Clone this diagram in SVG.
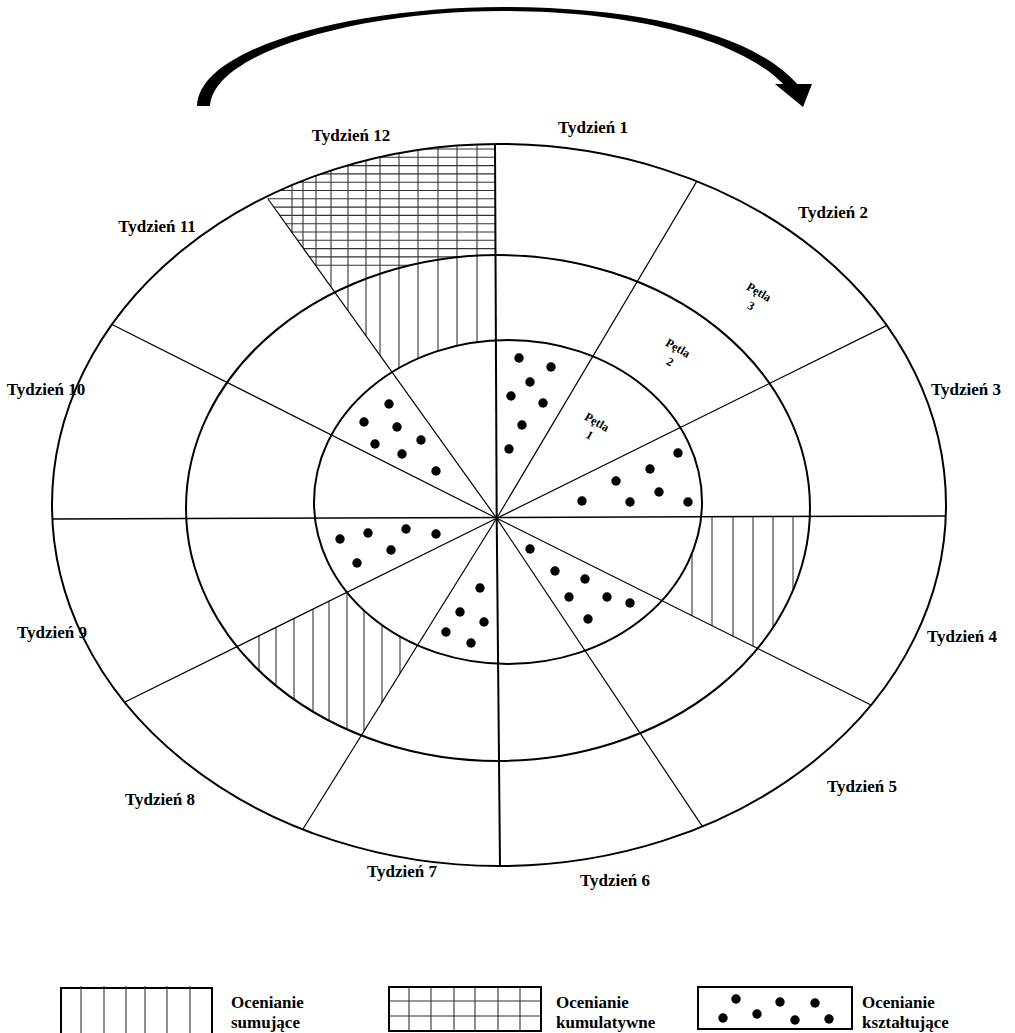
<svg xmlns="http://www.w3.org/2000/svg" width="1015" height="1033" viewBox="0 0 1015 1033">
<style>
.ring{fill:none;stroke:#000;stroke-width:2}
.spoke{stroke:#000;stroke-width:1.2;fill:none}
.hatch{stroke:#333;stroke-width:1.1;fill:none}
.dot{fill:#000}
.wk{font-family:"Liberation Serif","Times New Roman",serif;font-weight:bold;font-size:17px;fill:#000;text-anchor:middle}
.pt{font-family:"Liberation Serif","Times New Roman",serif;font-weight:bold;font-size:12px;fill:#000;text-anchor:middle}
.lg{font-family:"Liberation Serif","Times New Roman",serif;font-weight:bold;font-size:17px;fill:#000}
.box{fill:none;stroke:#000;stroke-width:2}
</style>
<defs>
<clipPath id="ringOI"><path clip-rule="evenodd" d="M52,505 a447,361 0 1,0 894,0 a447,361 0 1,0 -894,0Z M314,502 a194,162 0 1,0 388,0 a194,162 0 1,0 -388,0Z"/></clipPath>
<clipPath id="ringOM"><path clip-rule="evenodd" d="M52,505 a447,361 0 1,0 894,0 a447,361 0 1,0 -894,0Z M186,508 a312,253 0 1,0 624,0 a312,253 0 1,0 -624,0Z"/></clipPath>
<clipPath id="ringMI"><path clip-rule="evenodd" d="M186,508 a312,253 0 1,0 624,0 a312,253 0 1,0 -624,0Z M314,502 a194,162 0 1,0 388,0 a194,162 0 1,0 -388,0Z"/></clipPath>
<clipPath id="sec12"><polygon points="496.7,518.3 46.7,-109.7 493.3,-230"/></clipPath>
<clipPath id="sec3"><polygon points="496.7,518.3 1395,514 1245,892"/></clipPath>
<clipPath id="sec8"><polygon points="496.7,518.3 -247,886 109,1140"/></clipPath>
</defs>

<g id="cycle-arrow">
<path d="M197,106 C199,45 360,7 502,7 C648,7 757,36 799,86 L785,86 C745,43 643,11 502,11 C365,11 214,50 210,106 Z" fill="#000"/>
<polygon points="775,84 812,84 803,107" fill="#000"/>
</g>

<g id="hatching">
<g clip-path="url(#sec12)">
<g clip-path="url(#ringOI)">
<path class="hatch" d="M292,100V520 M303,100V520 M316,100V520 M331,100V520 M348,100V520 M366,100V520 M380,100V520 M399,100V520 M418,100V520 M438,100V520 M457,100V520 M477,100V520"/>
</g>
<g clip-path="url(#ringOM)">
<path class="hatch" d="M200,149H500 M200,157.3H500 M200,165.6H500 M200,173.9H500 M200,182.2H500 M200,190.5H500 M200,198.8H500 M200,207.1H500 M200,215.4H500 M200,223.7H500 M200,232H500 M200,240.3H500 M200,248.6H500 M200,256.9H500 M200,265.2H500"/>
</g>
</g>
<g clip-path="url(#sec3)">
<g clip-path="url(#ringMI)">
<path class="hatch" d="M692,500V730 M712,500V730 M733,500V730 M753,500V730 M773,500V730 M793,500V730"/>
</g>
</g>
<g clip-path="url(#sec8)">
<g clip-path="url(#ringMI)">
<path class="hatch" d="M259,550V790 M276,550V790 M294,550V790 M313,550V790 M329,550V790 M347,550V790 M364,550V790 M382,550V790 M400,550V790"/>
</g>
</g>
</g>

<g id="rings">
<ellipse id="outer-ring" class="ring" cx="499" cy="505" rx="447" ry="361"/>
<ellipse id="middle-ring" class="ring" cx="498" cy="508" rx="312" ry="253"/>
<ellipse id="inner-ring" class="ring" cx="508" cy="502" rx="194" ry="162"/>
</g>

<g id="connectors">
<line class="spoke" style="stroke-width:2" x1="496.7" y1="518.3" x2="495" y2="144"/>
<line class="spoke" x1="496.7" y1="518.3" x2="696.6" y2="181.6"/>
<line class="spoke" x1="496.7" y1="518.3" x2="886.5" y2="325.6"/>
<line class="spoke" style="stroke-width:1.5" x1="52" y1="519" x2="946" y2="516"/>
<line class="spoke" x1="496.7" y1="518.3" x2="871" y2="705"/>
<line class="spoke" x1="496.7" y1="518.3" x2="702.5" y2="826.7"/>
<line class="spoke" style="stroke-width:2" x1="496.7" y1="518.3" x2="500" y2="866"/>
<line class="spoke" x1="496.7" y1="518.3" x2="303" y2="829"/>
<line class="spoke" x1="496.7" y1="518.3" x2="125" y2="702"/>
<line class="spoke" x1="496.7" y1="518.3" x2="112" y2="324.5"/>
<line class="spoke" x1="496.7" y1="518.3" x2="268" y2="199"/>
</g>

<g id="dots">
<circle class="dot" r="4.7" cx="519" cy="358"/><circle class="dot" r="4.7" cx="551" cy="367"/><circle class="dot" r="4.7" cx="530" cy="382"/><circle class="dot" r="4.7" cx="511" cy="396"/><circle class="dot" r="4.7" cx="543" cy="403"/><circle class="dot" r="4.7" cx="522" cy="425"/><circle class="dot" r="4.7" cx="509" cy="449"/>
<circle class="dot" r="4.7" cx="678" cy="453"/><circle class="dot" r="4.7" cx="650" cy="469"/><circle class="dot" r="4.7" cx="616" cy="481"/><circle class="dot" r="4.7" cx="659" cy="492"/><circle class="dot" r="4.7" cx="582" cy="501"/><circle class="dot" r="4.7" cx="630" cy="502"/><circle class="dot" r="4.7" cx="688" cy="502"/>
<circle class="dot" r="4.7" cx="389" cy="404"/><circle class="dot" r="4.7" cx="364" cy="422"/><circle class="dot" r="4.7" cx="397" cy="427"/><circle class="dot" r="4.7" cx="421" cy="440"/><circle class="dot" r="4.7" cx="375" cy="444"/><circle class="dot" r="4.7" cx="402" cy="454"/><circle class="dot" r="4.7" cx="436" cy="471"/>
<circle class="dot" r="4.7" cx="406" cy="529"/><circle class="dot" r="4.7" cx="368" cy="533"/><circle class="dot" r="4.7" cx="436" cy="534"/><circle class="dot" r="4.7" cx="340" cy="539"/><circle class="dot" r="4.7" cx="391" cy="550"/><circle class="dot" r="4.7" cx="357" cy="563"/>
<circle class="dot" r="4.7" cx="480" cy="588"/><circle class="dot" r="4.7" cx="460" cy="612"/><circle class="dot" r="4.7" cx="484" cy="622"/><circle class="dot" r="4.7" cx="446" cy="632"/><circle class="dot" r="4.7" cx="471" cy="643"/>
<circle class="dot" r="4.7" cx="530" cy="549"/><circle class="dot" r="4.7" cx="555" cy="571"/><circle class="dot" r="4.7" cx="585" cy="579"/><circle class="dot" r="4.7" cx="569" cy="597"/><circle class="dot" r="4.7" cx="607" cy="597"/><circle class="dot" r="4.7" cx="630" cy="603"/><circle class="dot" r="4.7" cx="588" cy="619"/>
</g>

<g id="week-labels">
<text class="wk" x="593" y="133">Tydzień 1</text>
<text class="wk" x="833" y="218">Tydzień 2</text>
<text class="wk" x="966" y="395">Tydzień 3</text>
<text class="wk" x="962" y="642">Tydzień 4</text>
<text class="wk" x="862" y="792">Tydzień 5</text>
<text class="wk" x="615" y="886">Tydzień 6</text>
<text class="wk" x="402" y="877">Tydzień 7</text>
<text class="wk" x="160" y="805">Tydzień 8</text>
<text class="wk" x="52" y="638">Tydzień 9</text>
<text class="wk" x="46" y="395">Tydzień 10</text>
<text class="wk" x="157" y="232">Tydzień 11</text>
<text class="wk" x="351" y="141">Tydzień 12</text>
</g>

<g id="loop-labels">
<g id="petla-1" transform="translate(597,422) rotate(30)"><text class="pt" x="0" y="4">Pętla</text><text class="pt" x="0" y="19">1</text></g>
<g id="petla-2" transform="translate(678,348) rotate(30)"><text class="pt" x="0" y="4">Pętla</text><text class="pt" x="0" y="20">2</text></g>
<g id="petla-3" transform="translate(759,292) rotate(30)"><text class="pt" x="0" y="4">Pętla</text><text class="pt" x="0" y="20">3</text></g>
</g>

<g id="legend">
<g id="legend-sumujace">
<path class="box" d="M61,1035V988H212V1035"/>
<path class="hatch" d="M81,986V1033 M104,986V1033 M126,986V1033 M145,986V1033 M167,986V1033 M190,986V1033"/>
<text class="lg" x="231" y="1008">Ocenianie</text>
<text class="lg" x="231" y="1028">sumujące</text>
</g>
<g id="legend-kumulatywne">
<path class="hatch" d="M409,987V1031 M431,987V1031 M454,987V1031 M475,987V1031 M498,987V1031 M520,987V1031 M389,1001H541 M389,1016H541"/>
<rect class="box" x="389" y="987" width="152" height="44"/>
<text class="lg" x="556" y="1008">Ocenianie</text>
<text class="lg" x="556" y="1028">kumulatywne</text>
</g>
<g id="legend-ksztaltujace">
<rect class="box" x="698" y="987" width="154" height="42"/>
<circle class="dot" r="4.7" cx="736" cy="999"/><circle class="dot" r="4.7" cx="780" cy="1002"/><circle class="dot" r="4.7" cx="815" cy="1003"/><circle class="dot" r="4.7" cx="757" cy="1014"/><circle class="dot" r="4.7" cx="723" cy="1018"/><circle class="dot" r="4.7" cx="795" cy="1020"/><circle class="dot" r="4.7" cx="829" cy="1019"/>
<text class="lg" x="862" y="1008">Ocenianie</text>
<text class="lg" x="862" y="1028">kształtujące</text>
</g>
</g>
</svg>
